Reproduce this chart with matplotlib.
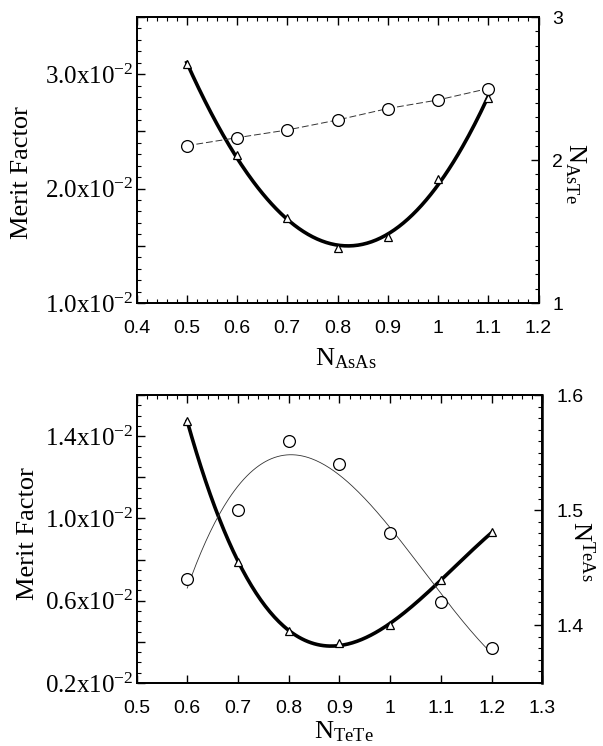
import numpy as np
import matplotlib
matplotlib.use('Agg')
import matplotlib.pyplot as plt
from matplotlib.ticker import MultipleLocator

plt.rcParams['font.family'] = ['Liberation Serif', 'DejaVu Serif']
plt.rcParams['mathtext.fontset'] = 'custom'
plt.rcParams['mathtext.rm'] = 'Liberation Serif'
plt.rcParams['mathtext.it'] = 'Liberation Serif:italic'
plt.rcParams['mathtext.bf'] = 'Liberation Serif:bold'

# top panel: merit factor and N_AsTe vs N_AsAs
n_asas = [0.5, 0.6, 0.7, 0.8, 0.9, 1.0, 1.1]
merit_asas = [0.0309, 0.0229, 0.0174, 0.0148, 0.0158, 0.0208, 0.0279]
n_aste = [2.10, 2.156, 2.21, 2.28, 2.36, 2.42, 2.50]

# bottom panel: merit factor and N_TeAs vs N_TeTe
n_tete = [0.6, 0.7, 0.8, 0.9, 1.0, 1.1, 1.2]
merit_tete = [0.01474, 0.0079, 0.00451, 0.00394, 0.00483, 0.00699, 0.00932]
n_teas = [1.440, 1.500, 1.560, 1.540, 1.480, 1.420, 1.380]

top_xticks = [0.4, 0.5, 0.6, 0.7, 0.8, 0.9, 1.0, 1.1, 1.2]
top_xlabels = ['0.4', '0.5', '0.6', '0.7', '0.8', '0.9', '1', '1.1', '1.2']
bot_xticks = [0.5, 0.6, 0.7, 0.8, 0.9, 1.0, 1.1, 1.2, 1.3]
bot_xlabels = ['0.5', '0.6', '0.7', '0.8', '0.9', '1', '1.1', '1.2', '1.3']

SANS = 'Liberation Sans'


def sci(v):
    return '%.1fx10$^{-2}$' % (v * 100)


def fit_line(x, y, deg):
    c = np.polyfit(x, y, deg)
    xs = np.linspace(min(x), max(x), 200)
    return xs, np.polyval(c, xs)


def style(ax, ax2):
    for a in (ax, ax2):
        for s in a.spines.values():
            s.set_linewidth(1.3)
    ax.tick_params(which='both', direction='in', top=True, right=False)
    ax.tick_params(which='major', length=6, width=1.0)
    ax.tick_params(which='minor', length=3, width=0.8)
    ax.tick_params(axis='x', pad=12)
    ax.tick_params(axis='y', pad=2)
    ax2.tick_params(which='both', direction='in', left=False, right=True)
    ax2.tick_params(which='major', length=6, width=1.0, pad=10)
    ax2.tick_params(which='minor', length=3, width=0.8)


fig = plt.figure(figsize=(6.03, 7.46), dpi=100)

# ---- top panel
ax = fig.add_axes([0.2264, 0.5938, 0.6667, 0.3834])
ax2 = ax.twinx()

xs, ys = fit_line(n_asas, merit_asas, 3)
ax.plot(xs, ys, color='black', lw=2.6, zorder=3)
ax.plot(n_asas, merit_asas, ls='none', marker='^', ms=6, mfc='white', mec='black', mew=0.9, zorder=4)
ax2.plot(n_asas, n_aste, color='#333333', lw=0.7, ls=(0, (7, 3)),
         marker='o', ms=8.5, mfc='white', mec='black', mew=0.9)

ax.set_xlim(0.4, 1.2)
ax.set_ylim(0.010, 0.035)
ax2.set_ylim(1, 3)
ax.set_xticks(top_xticks, top_xlabels, fontfamily=SANS, fontsize=14)
ax.xaxis.set_minor_locator(MultipleLocator(0.02))
yt = [0.010, 0.015, 0.020, 0.025, 0.030, 0.035]
ax.set_yticks(yt, [sci(v) if i % 2 == 0 else '' for i, v in enumerate(yt)], fontsize=18)
ax.yaxis.set_minor_locator(MultipleLocator(0.001))
ax2.set_yticks([1, 2, 3], ['1', '2', '3'], fontfamily=SANS, fontsize=14)
ax2.yaxis.set_minor_locator(MultipleLocator(0.1))
style(ax, ax2)

ax.set_ylabel('Merit Factor', fontsize=19)
ax.yaxis.set_label_coords(-0.257, 0.455)
ax.set_xlabel(r'N$_{\mathrm{AsAs}}$', fontsize=19)
ax.xaxis.set_label_coords(0.52, -0.15)
ax2.set_ylabel(r'N$_{\mathrm{AsTe}}$', fontsize=19, rotation=270)
ax2.yaxis.set_label_coords(1.123, 0.455)

# ---- bottom panel
bx = fig.add_axes([0.2264, 0.0845, 0.673, 0.386])
bx2 = bx.twinx()

xs, ys = fit_line(n_tete, merit_tete, 3)
bx.plot(xs, ys, color='black', lw=2.6, zorder=3)
bx.plot(n_tete, merit_tete, ls='none', marker='^', ms=6, mfc='white', mec='black', mew=0.9, zorder=4)
xs, ys = fit_line(n_tete, n_teas, 3)
bx2.plot(xs, ys, color='#333333', lw=0.6)
bx2.plot(n_tete, n_teas, ls='none', marker='o', ms=8.5, mfc='white', mec='black', mew=0.9)

bx.set_xlim(0.5, 1.3)
bx.set_ylim(0.002, 0.016)
bx2.set_ylim(1.35, 1.6)
bx.set_xticks(bot_xticks, bot_xlabels, fontfamily=SANS, fontsize=14)
bx.xaxis.set_minor_locator(MultipleLocator(0.02))
yt = [0.002, 0.004, 0.006, 0.008, 0.010, 0.012, 0.014, 0.016]
bx.set_yticks(yt, [sci(v) if i % 2 == 0 and v < 0.016 else '' for i, v in enumerate(yt)], fontsize=18)
bx.yaxis.set_minor_locator(MultipleLocator(0.0005))
bx2.set_yticks([1.4, 1.5, 1.6], ['1.4', '1.5', '1.6'], fontfamily=SANS, fontsize=14)
bx2.yaxis.set_minor_locator(MultipleLocator(0.01))
style(bx, bx2)
bx.tick_params(axis='x', which='minor', bottom=False)
bx2.spines['right'].set_linewidth(1.8)

bx.set_ylabel('Merit Factor', fontsize=19)
bx.yaxis.set_label_coords(-0.24, 0.52)
bx.set_xlabel(r'N$_{\mathrm{TeTe}}$', fontsize=19)
bx.xaxis.set_label_coords(0.511, -0.125)
bx2.set_ylabel(r'N$^{\mathrm{TeAs}}$', fontsize=19, rotation=270)
bx2.yaxis.set_label_coords(1.13, 0.458)

fig.savefig('out.png', dpi=100)
